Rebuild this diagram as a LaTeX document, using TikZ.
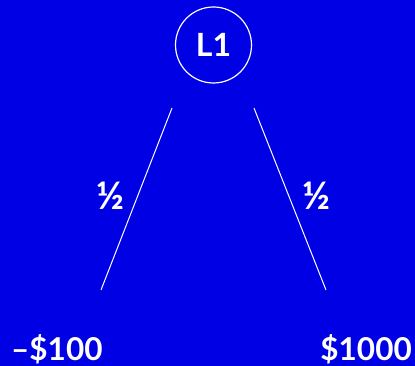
\documentclass[tikz,border=0pt]{standalone}
\usepackage{fontspec}
\setmainfont{Lato}
\usepackage{tikz}
\usetikzlibrary{positioning}
\definecolor{bgblue}{rgb}{0, 0, 0.9}
\tikzset{branch/.style={white, line width=1pt}}
\tikzset{prob/.style={white, font=\bfseries\fontsize{38}{40}\selectfont, inner sep=0pt}}
\tikzset{payoff/.style={white, font=\bfseries\fontsize{31.5}{34}\selectfont, inner sep=0pt}}

\begin{document}
\begin{tikzpicture}[x=1pt, y=-1pt]
                \fill[bgblue] (0, 0) rectangle (415, 366);%
                \node[draw=white, line width=1.2pt, circle, minimum size=76pt, white,
                  font=\bfseries\fontsize{32}{34}\selectfont] (l1) at (213.5, 45) {L1};%
                \coordinate (ltop) at (172, 108);%
                \coordinate (lbot) at (101, 290);%
                \coordinate (rtop) at (254, 108);%
                \coordinate (rbot) at (326, 290);%
                \draw[branch] (ltop) -- (lbot);%
                \draw[branch] (rtop) -- (rbot);%
                \node[prob] (lprob) at (110, 196) {½};%
                \node[prob] (rprob) at (316.5, 196) {½};%
                \node[payoff, anchor=base west] (lose) at (11, 360) {–\$100};%
                \node[payoff, anchor=base east] (win) at (412, 360) {\$1000};%
              \end{tikzpicture}
\end{document}
